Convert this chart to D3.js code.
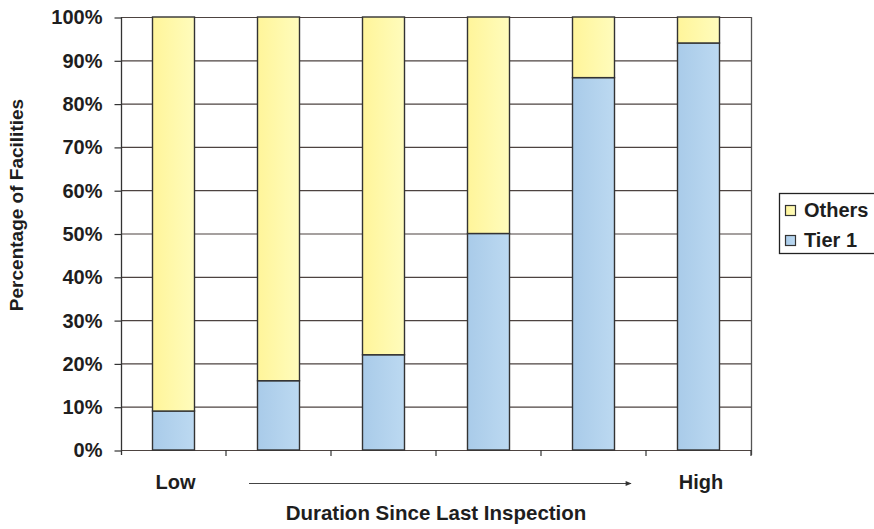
<!DOCTYPE html>
<html>
<head>
<meta charset="utf-8">
<script src="https://cdn.jsdelivr.net/npm/d3@7"></script>
<style>
  html, body { margin: 0; padding: 0; background: #fff; }
  svg { display: block; font-family: "Liberation Sans", Arial, sans-serif; font-weight: bold; }
</style>
</head>
<body>
<svg id="chart" width="874" height="529"></svg>
<script>
const categories = ["G1", "G2", "G3", "G4", "G5", "G6"];
const tier1 = [9, 16, 22, 50, 86, 94];
const others = [91, 84, 78, 50, 14, 6];
const seriesNames = ["Tier 1", "Others"];
const yTicks = [0, 10, 20, 30, 40, 50, 60, 70, 80, 90, 100];
const xEndLabels = ["Low", "High"];
const xTitle = "Duration Since Last Inspection";
const yTitle = "Percentage of Facilities";

const svg = d3.select("#chart");
const m = { left: 121, right: 751, top: 17, bottom: 450 };

const rows = categories.map((c, i) => ({ cat: c, "Tier 1": tier1[i], "Others": others[i] }));
const stacked = d3.stack().keys(seriesNames)(rows);

const x = d3.scaleBand().domain(categories).range([m.left, m.right]).paddingInner(0.6).paddingOuter(0.3);
const y = d3.scaleLinear().domain([0, 100]).range([m.bottom, m.top]);

const gridColor = "#4d4340";
const textColor = "#1e1e1e";

// gridlines
svg.append("g").selectAll("line").data(yTicks).join("line")
  .attr("x1", m.left).attr("x2", m.right)
  .attr("y1", d => y(d) + 0.5).attr("y2", d => y(d) + 0.5)
  .attr("stroke", gridColor).attr("stroke-width", 1.2);

// right border
svg.append("line").attr("x1", m.right + 0.5).attr("x2", m.right + 0.5)
  .attr("y1", m.top).attr("y2", m.bottom + 5)
  .attr("stroke", "#555").attr("stroke-width", 1.3);

// defs for subtle gradients
const defs = svg.append("defs");
const gy = defs.append("linearGradient").attr("id", "gy").attr("x1", 0).attr("x2", 1);
gy.append("stop").attr("offset", "0%").attr("stop-color", "#fff59a");
gy.append("stop").attr("offset", "100%").attr("stop-color", "#fffcbc");
const gb = defs.append("linearGradient").attr("id", "gb").attr("x1", 0).attr("x2", 1);
gb.append("stop").attr("offset", "0%").attr("stop-color", "#a9cbe9");
gb.append("stop").attr("offset", "100%").attr("stop-color", "#bcd9f1");
const fillFor = { "Tier 1": "url(#gb)", "Others": "url(#gy)" };

// bars
svg.append("g").selectAll("g").data(stacked).join("g")
  .attr("fill", d => fillFor[d.key])
  .selectAll("rect").data(d => d).join("rect")
  .attr("x", d => x(d.data.cat))
  .attr("width", x.bandwidth())
  .attr("y", d => y(d[1]))
  .attr("height", d => y(d[0]) - y(d[1]))
  .attr("stroke", "#333").attr("stroke-width", 1.4);

// y axis
const yAxis = d3.axisLeft(y).tickValues(yTicks).tickFormat(d => d + "%").tickSize(7).tickPadding(12);
const ya = svg.append("g").attr("transform", `translate(${m.left + 0.5},0.5)`).call(yAxis);
ya.select(".domain").remove();
ya.selectAll(".tick line").attr("stroke", "#333").attr("stroke-width", 1.2);
ya.selectAll(".tick text").attr("font-size", 20).attr("font-weight", "bold")
  .attr("fill", textColor).attr("font-family", "Liberation Sans, Arial, sans-serif");
svg.append("line").attr("x1", m.left + 0.5).attr("x2", m.left + 0.5)
  .attr("y1", m.top).attr("y2", m.bottom + 5)
  .attr("stroke", "#333").attr("stroke-width", 1.3);

// x axis ticks at category boundaries
const bounds = categories.map(c => x(c) - x.step() * x.paddingInner() / 2 + x.step());
svg.append("g").selectAll("line").data(bounds).join("line")
  .attr("x1", d => d).attr("x2", d => d)
  .attr("y1", m.bottom).attr("y2", m.bottom + 6)
  .attr("stroke", "#333").attr("stroke-width", 1.2);

// Low / High labels
svg.append("text").attr("x", x(categories[0]) + x.bandwidth() / 2 + 2).attr("y", 489)
  .attr("text-anchor", "middle").attr("font-size", 20).attr("fill", textColor).text(xEndLabels[0]);
svg.append("text").attr("x", x(categories[5]) + x.bandwidth() / 2 + 2.5).attr("y", 489)
  .attr("text-anchor", "middle").attr("font-size", 20).attr("fill", textColor).text(xEndLabels[1]);

// arrow
defs.append("marker").attr("id", "arr").attr("viewBox", "0 0 10 10")
  .attr("refX", 9).attr("refY", 5).attr("markerWidth", 7).attr("markerHeight", 6)
  .attr("markerUnits", "userSpaceOnUse").attr("orient", "auto")
  .append("path").attr("d", "M0,1 L10,5 L0,9 Z").attr("fill", "#333");
svg.append("line").attr("x1", 249).attr("x2", 631).attr("y1", 483.5).attr("y2", 483.5)
  .attr("stroke", "#444").attr("stroke-width", 1.2).attr("marker-end", "url(#arr)");

// x title
svg.append("text").attr("x", 436).attr("y", 520).attr("text-anchor", "middle")
  .attr("font-size", 20.5).attr("fill", textColor).text(xTitle);

// y title
svg.append("text").attr("transform", "translate(23,205) rotate(-90)")
  .attr("text-anchor", "middle").attr("font-size", 19).attr("fill", textColor).text(yTitle);

// legend
const lg = svg.append("g");
lg.append("rect").attr("x", 779.5).attr("y", 193.5).attr("width", 110).attr("height", 60)
  .attr("fill", "#fff").attr("stroke", "#222").attr("stroke-width", 1.3);
const legendItems = ["Others", "Tier 1"];
legendItems.forEach((k, i) => {
  const yy = 206 + i * 30;
  lg.append("rect").attr("x", 785.5).attr("y", yy - 0.5).attr("width", 10).attr("height", 10)
    .attr("fill", fillFor[k]).attr("stroke", "#333").attr("stroke-width", 1.2);
  lg.append("text").attr("x", 804).attr("y", yy + 10.5).attr("font-size", 20)
    .attr("fill", textColor).text(k);
});
</script>
</body>
</html>
